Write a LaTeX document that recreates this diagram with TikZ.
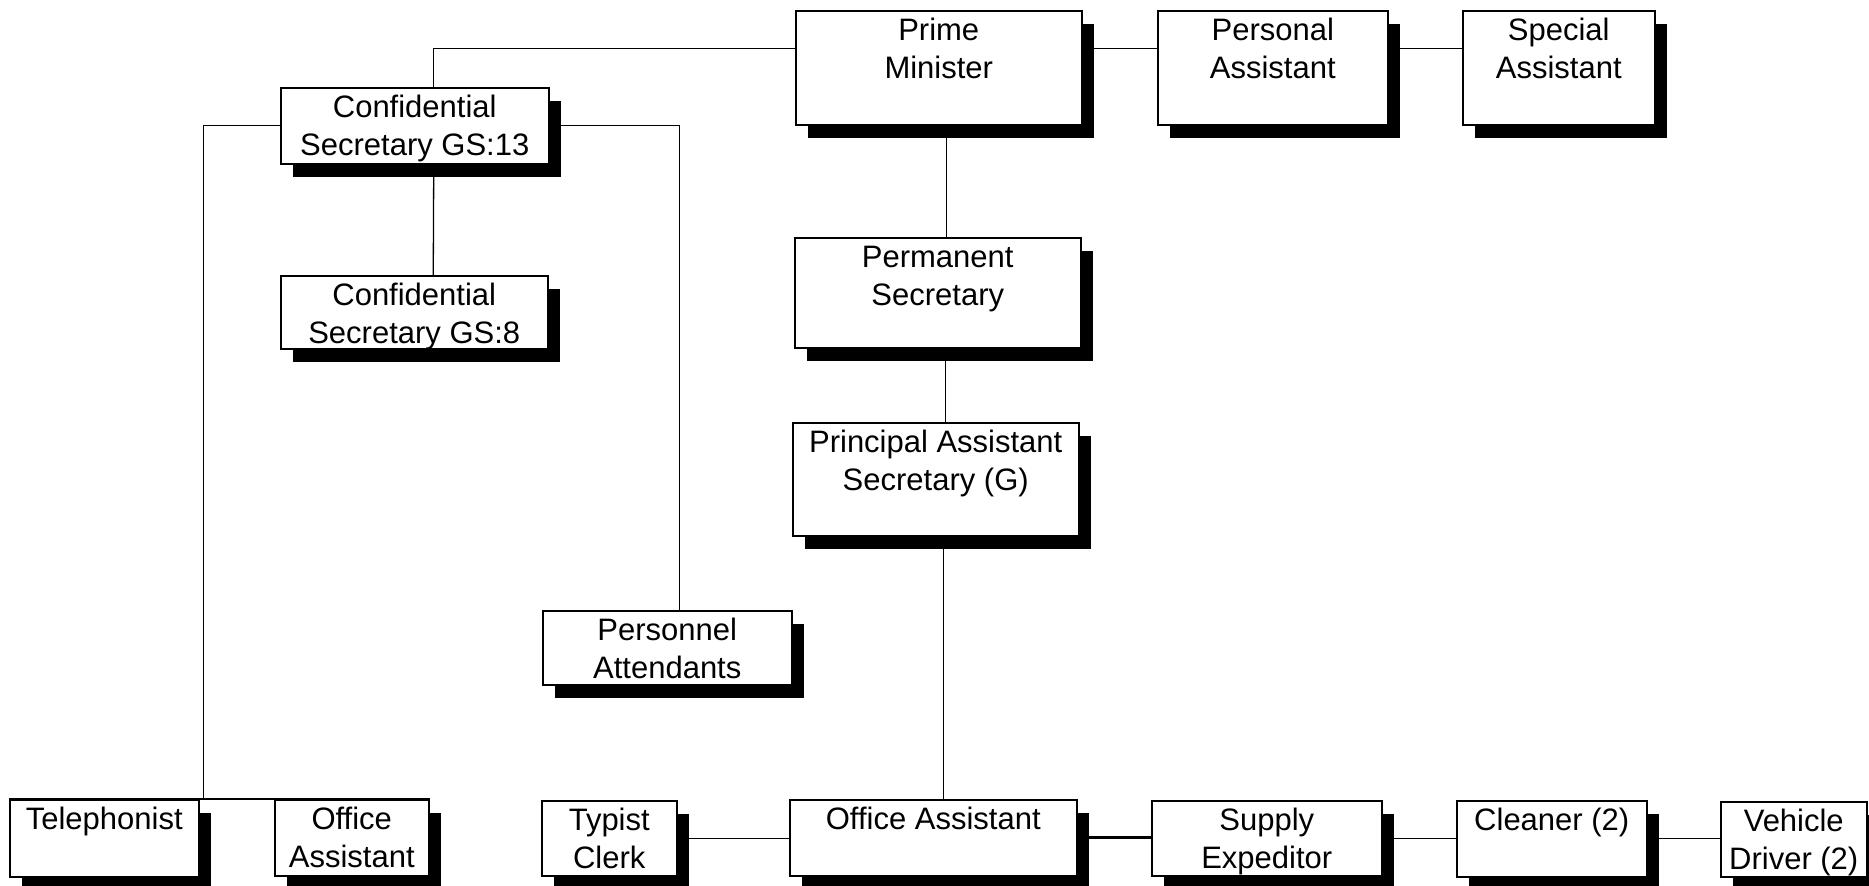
\documentclass[tikz,border=0pt]{standalone}
\usepackage{fontspec}
\setmainfont{Liberation Sans}
\usetikzlibrary{shadows,calc}
\pgfdeclarelayer{paper}
\pgfdeclarelayer{background}
\pgfsetlayers{paper,background,main}
\tikzset{
  orgbox/.style={draw, fill=white, line width=1.5pt, inner sep=0pt, anchor=north west,
    drop shadow={shadow xshift=12pt, shadow yshift=-13pt, fill=black, opacity=1}},
  lbl/.style={anchor=north, yshift=-3.4pt, align=center, inner sep=0pt,
    font=\fontsize{31}{38}\selectfont},
  link/.style={line width=1.3pt},
  heavylink/.style={line width=2.6pt},
}
\begin{document}
\begin{tikzpicture}[x=1pt, y=-1pt]
\useasboundingbox (0,0) rectangle (1869,886);
\begin{pgfonlayer}{paper}
  \fill[white] (0,0) rectangle (1869,886);
\end{pgfonlayer}
\clip (0,0) rectangle (1869,886);

% top row
\node[orgbox, minimum width=286pt, minimum height=114pt] (PM) at (795,10) {};
\node[lbl] (PMt) at (PM.north) {\strut Prime\\\strut Minister};
\node[orgbox, minimum width=230pt, minimum height=114pt] (PA) at (1157,10) {};
\node[lbl] (PAt) at (PA.north) {\strut Personal\\\strut Assistant};
\node[orgbox, minimum width=192pt, minimum height=114pt] (SA) at (1462,10) {};
\node[lbl] (SAt) at (SA.north) {\strut Special\\\strut Assistant};

% confidential secretaries
\node[orgbox, minimum width=268pt, minimum height=76pt] (CS13) at (280,87) {};
\node[lbl] (CS13t) at (CS13.north) {\strut Confidential\\\strut Secretary GS:13};
\node[orgbox, minimum width=267pt, minimum height=73pt] (CS8) at (280,275) {};
\node[lbl] (CS8t) at (CS8.north) {\strut Confidential\\\strut Secretary GS:8};

% main chain
\node[orgbox, minimum width=286pt, minimum height=110pt] (PS) at (794,237) {};
\node[lbl] (PSt) at (PS.north) {\strut Permanent\\\strut Secretary};
\node[orgbox, minimum width=286pt, minimum height=113pt] (PAS) at (792,422) {};
\node[lbl] (PASt) at (PAS.north) {\strut Principal Assistant\\\strut Secretary (G)};
\node[orgbox, minimum width=249pt, minimum height=74pt] (PER) at (542,610) {};
\node[lbl] (PERt) at (PER.north) {\strut Personnel\\\strut Attendants};

% bottom row
\node[orgbox, minimum width=189pt, minimum height=77pt] (TEL) at (9,799) {};
\node[lbl] (TELt) at (TEL.north) {\strut Telephonist};
\node[orgbox, minimum width=154pt, minimum height=76pt] (OAL) at (274,799) {};
\node[lbl] (OALt) at (OAL.north) {\strut Office\\\strut Assistant};
\node[orgbox, minimum width=135pt, minimum height=75pt] (TYP) at (541,800) {};
\node[lbl] (TYPt) at (TYP.north) {\strut Typist\\\strut Clerk};
\node[orgbox, minimum width=287pt, minimum height=76pt] (OAC) at (789,799) {};
\node[lbl] (OACt) at (OAC.north) {\strut Office Assistant};
\node[orgbox, minimum width=230pt, minimum height=75pt] (SE) at (1151,800) {};
\node[lbl] (SEt) at (SE.north) {\strut Supply\\\strut Expeditor};
\node[orgbox, minimum width=190pt, minimum height=76pt] (CL) at (1456,800) {};
\node[lbl] (CLt) at (CL.north) {\strut Cleaner (2)};
\node[orgbox, minimum width=146pt, minimum height=75pt] (VD) at (1720,801) {};
\node[lbl] (VDt) at (VD.north) {\strut Vehicle\\\strut Driver (2)};

% connectors, kept behind the boxes
\begin{pgfonlayer}{background}
  \draw[link] ($(PM.west)+(0,-19)$) -| ($(CS13.north)+(19,0)$);
  \draw[link] ($(CS13.south)+(19,0)$) -- ($(CS8.north)+(19,0)$);
  \draw[link] ($(PM.east)+(0,-19)$) coordinate (pmr) -- (pmr -| PA.west);
  \draw[link] ($(PA.east)+(0,-19)$) coordinate (par) -- (par -| SA.west);
  \draw[link] ($(PM.south)+(8,0)$) -- ($(PS.north)+(9,0)$);
  \draw[link] ($(PS.south)+(8,0)$) -- ($(PAS.north)+(10,0)$);
  \draw[link] ($(PAS.south)+(8,0)$) -- ($(OAC.north)+(10.5,0)$);
  \draw[link] (CS13.west) -| ($(TEL.north east)+(4,0)$);
  \draw[link] (CS13.east) -| ($(PER.north)+(12.5,0)$);
  \draw[link] (TYP.east) -- (TYP.east -| OAC.west);
  \draw[heavylink] (OAC.east) -- (OAC.east -| SE.west);
  \draw[link] (SE.east) -- (SE.east -| CL.west);
  \draw[link] (CL.east) -- (CL.east -| VD.west);
\end{pgfonlayer}
% common top line over the two left boxes
\draw[line width=1.5pt] (TEL.north west) -- (OAL.north east);
\end{tikzpicture}
\end{document}
